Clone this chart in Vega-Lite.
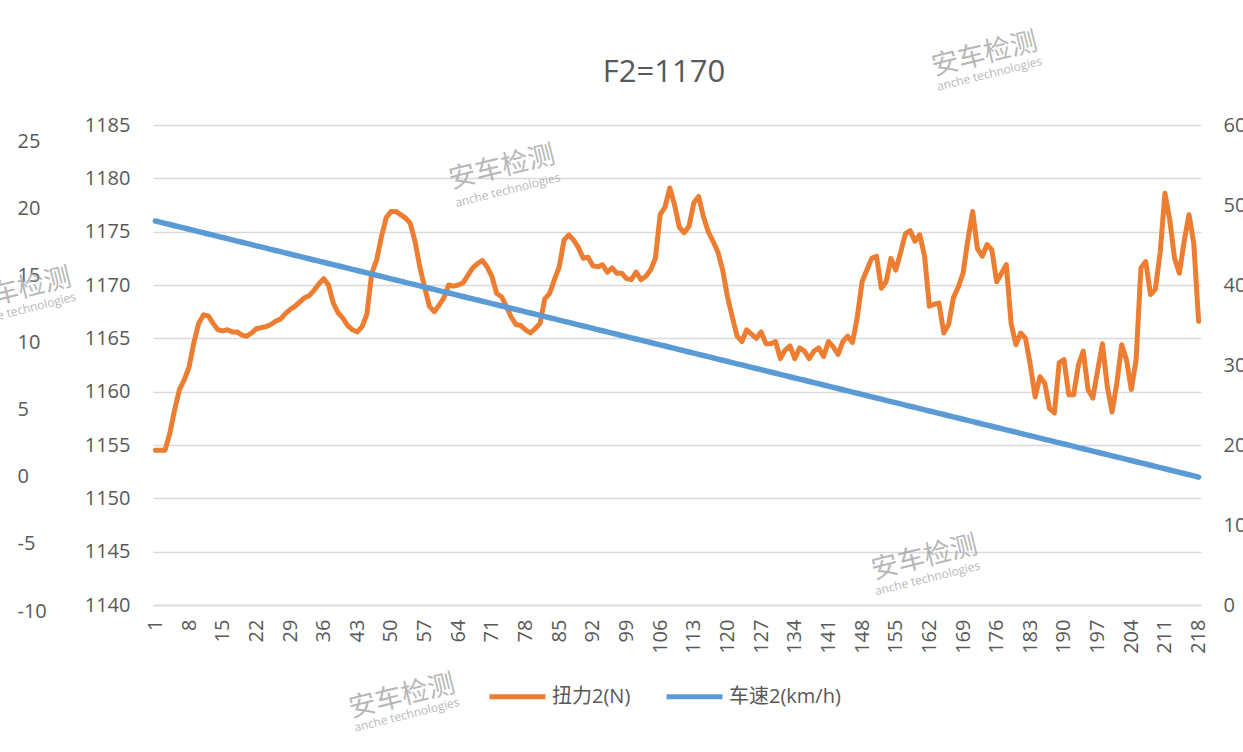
{
  "$schema": "https://vega.github.io/schema/vega-lite/v6.json",
  "width": 1048,
  "height": 480,
  "autosize": {"type": "none"},
  "padding": {"left": 153, "top": 125, "right": 42, "bottom": 147},
  "background": "white",
  "config": {
    "view": {"stroke": null},
    "font": "Open Sans, Noto Sans CJK SC",
    "axis": {"labelColor": "#595959", "labelFontSize": 20, "labelFont": "Open Sans", "titleColor": "#595959"},
    "axisX": {"labelOverlap": false, "labelFlush": false, "labelBound": false}
  },
  "title": {"text": "F2=1170", "fontSize": 31, "font": "Open Sans", "fontWeight": "normal", "color": "#595959", "baseline": "alphabetic", "offset": -85, "dx": -13},
  "datasets": {
    "d": [
      {"i":1,"t":1154.5,"s":48.00},{"i":2,"t":1154.5,"s":47.85},{"i":3,"t":1154.5,"s":47.71},{"i":4,"t":1156.1,"s":47.56},{"i":5,"t":1158.3,"s":47.41},
      {"i":6,"t":1160.2,"s":47.26},{"i":7,"t":1161.1,"s":47.12},{"i":8,"t":1162.3,"s":46.97},{"i":9,"t":1164.6,"s":46.82},{"i":10,"t":1166.4,"s":46.67},
      {"i":11,"t":1167.2,"s":46.53},{"i":12,"t":1167.1,"s":46.38},{"i":13,"t":1166.4,"s":46.23},{"i":14,"t":1165.8,"s":46.08},{"i":15,"t":1165.7,"s":45.94},
      {"i":16,"t":1165.8,"s":45.79},{"i":17,"t":1165.6,"s":45.64},{"i":18,"t":1165.6,"s":45.49},{"i":19,"t":1165.3,"s":45.35},{"i":20,"t":1165.2,"s":45.20},
      {"i":21,"t":1165.5,"s":45.05},{"i":22,"t":1165.9,"s":44.90},{"i":23,"t":1166.0,"s":44.76},{"i":24,"t":1166.1,"s":44.61},{"i":25,"t":1166.3,"s":44.46},
      {"i":26,"t":1166.6,"s":44.31},{"i":27,"t":1166.8,"s":44.17},{"i":28,"t":1167.3,"s":44.02},{"i":29,"t":1167.7,"s":43.87},{"i":30,"t":1168.0,"s":43.72},
      {"i":31,"t":1168.4,"s":43.58},{"i":32,"t":1168.8,"s":43.43},{"i":33,"t":1169.0,"s":43.28},{"i":34,"t":1169.5,"s":43.13},{"i":35,"t":1170.1,"s":42.99},
      {"i":36,"t":1170.6,"s":42.84},{"i":37,"t":1170.0,"s":42.69},{"i":38,"t":1168.3,"s":42.54},{"i":39,"t":1167.4,"s":42.40},{"i":40,"t":1166.9,"s":42.25},
      {"i":41,"t":1166.2,"s":42.10},{"i":42,"t":1165.8,"s":41.95},{"i":43,"t":1165.6,"s":41.81},{"i":44,"t":1166.1,"s":41.66},{"i":45,"t":1167.3,"s":41.51},
      {"i":46,"t":1171.1,"s":41.36},{"i":47,"t":1172.3,"s":41.22},{"i":48,"t":1174.5,"s":41.07},{"i":49,"t":1176.3,"s":40.92},{"i":50,"t":1176.9,"s":40.77},
      {"i":51,"t":1176.9,"s":40.63},{"i":52,"t":1176.6,"s":40.48},{"i":53,"t":1176.3,"s":40.33},{"i":54,"t":1175.8,"s":40.18},{"i":55,"t":1174.1,"s":40.04},
      {"i":56,"t":1171.7,"s":39.89},{"i":57,"t":1169.8,"s":39.74},{"i":58,"t":1168.0,"s":39.59},{"i":59,"t":1167.5,"s":39.45},{"i":60,"t":1168.1,"s":39.30},
      {"i":61,"t":1168.8,"s":39.15},{"i":62,"t":1170.0,"s":39.00},{"i":63,"t":1169.9,"s":38.86},{"i":64,"t":1170.0,"s":38.71},{"i":65,"t":1170.2,"s":38.56},
      {"i":66,"t":1170.9,"s":38.41},{"i":67,"t":1171.6,"s":38.27},{"i":68,"t":1172.0,"s":38.12},{"i":69,"t":1172.3,"s":37.97},{"i":70,"t":1171.7,"s":37.82},
      {"i":71,"t":1170.8,"s":37.68},{"i":72,"t":1169.2,"s":37.53},{"i":73,"t":1168.9,"s":37.38},{"i":74,"t":1168.0,"s":37.23},{"i":75,"t":1167.0,"s":37.09},
      {"i":76,"t":1166.3,"s":36.94},{"i":77,"t":1166.2,"s":36.79},{"i":78,"t":1165.8,"s":36.64},{"i":79,"t":1165.5,"s":36.50},{"i":80,"t":1165.9,"s":36.35},
      {"i":81,"t":1166.4,"s":36.20},{"i":82,"t":1168.7,"s":36.05},{"i":83,"t":1169.2,"s":35.91},{"i":84,"t":1170.5,"s":35.76},{"i":85,"t":1171.7,"s":35.61},
      {"i":86,"t":1174.2,"s":35.46},{"i":87,"t":1174.7,"s":35.32},{"i":88,"t":1174.2,"s":35.17},{"i":89,"t":1173.5,"s":35.02},{"i":90,"t":1172.5,"s":34.87},
      {"i":91,"t":1172.6,"s":34.73},{"i":92,"t":1171.8,"s":34.58},{"i":93,"t":1171.7,"s":34.43},{"i":94,"t":1171.9,"s":34.28},{"i":95,"t":1171.2,"s":34.14},
      {"i":96,"t":1171.6,"s":33.99},{"i":97,"t":1171.1,"s":33.84},{"i":98,"t":1171.1,"s":33.69},{"i":99,"t":1170.6,"s":33.55},{"i":100,"t":1170.5,"s":33.40},
      {"i":101,"t":1171.2,"s":33.25},{"i":102,"t":1170.5,"s":33.10},{"i":103,"t":1170.8,"s":32.96},{"i":104,"t":1171.4,"s":32.81},{"i":105,"t":1172.5,"s":32.66},
      {"i":106,"t":1176.6,"s":32.51},{"i":107,"t":1177.3,"s":32.37},{"i":108,"t":1179.1,"s":32.22},{"i":109,"t":1177.5,"s":32.07},{"i":110,"t":1175.4,"s":31.92},
      {"i":111,"t":1174.9,"s":31.78},{"i":112,"t":1175.5,"s":31.63},{"i":113,"t":1177.7,"s":31.48},{"i":114,"t":1178.3,"s":31.33},{"i":115,"t":1176.4,"s":31.19},
      {"i":116,"t":1175.0,"s":31.04},{"i":117,"t":1174.1,"s":30.89},{"i":118,"t":1173.1,"s":30.74},{"i":119,"t":1171.4,"s":30.60},{"i":120,"t":1168.9,"s":30.45},
      {"i":121,"t":1167.0,"s":30.30},{"i":122,"t":1165.2,"s":30.15},{"i":123,"t":1164.7,"s":30.01},{"i":124,"t":1165.8,"s":29.86},{"i":125,"t":1165.4,"s":29.71},
      {"i":126,"t":1165.0,"s":29.56},{"i":127,"t":1165.6,"s":29.42},{"i":128,"t":1164.5,"s":29.27},{"i":129,"t":1164.5,"s":29.12},{"i":130,"t":1164.7,"s":28.97},
      {"i":131,"t":1163.1,"s":28.83},{"i":132,"t":1163.9,"s":28.68},{"i":133,"t":1164.3,"s":28.53},{"i":134,"t":1163.1,"s":28.38},{"i":135,"t":1164.1,"s":28.24},
      {"i":136,"t":1163.8,"s":28.09},{"i":137,"t":1163.1,"s":27.94},{"i":138,"t":1163.8,"s":27.79},{"i":139,"t":1164.1,"s":27.65},{"i":140,"t":1163.3,"s":27.50},
      {"i":141,"t":1164.7,"s":27.35},{"i":142,"t":1164.2,"s":27.20},{"i":143,"t":1163.5,"s":27.06},{"i":144,"t":1164.7,"s":26.91},{"i":145,"t":1165.2,"s":26.76},
      {"i":146,"t":1164.6,"s":26.61},{"i":147,"t":1167.0,"s":26.47},{"i":148,"t":1170.3,"s":26.32},{"i":149,"t":1171.4,"s":26.17},{"i":150,"t":1172.5,"s":26.02},
      {"i":151,"t":1172.7,"s":25.88},{"i":152,"t":1169.7,"s":25.73},{"i":153,"t":1170.3,"s":25.58},{"i":154,"t":1172.5,"s":25.43},{"i":155,"t":1171.4,"s":25.29},
      {"i":156,"t":1173.0,"s":25.14},{"i":157,"t":1174.8,"s":24.99},{"i":158,"t":1175.1,"s":24.84},{"i":159,"t":1174.1,"s":24.70},{"i":160,"t":1174.7,"s":24.55},
      {"i":161,"t":1172.7,"s":24.40},{"i":162,"t":1168.0,"s":24.25},{"i":163,"t":1168.2,"s":24.11},{"i":164,"t":1168.3,"s":23.96},{"i":165,"t":1165.5,"s":23.81},
      {"i":166,"t":1166.3,"s":23.66},{"i":167,"t":1168.8,"s":23.52},{"i":168,"t":1169.8,"s":23.37},{"i":169,"t":1171.1,"s":23.22},{"i":170,"t":1174.2,"s":23.07},
      {"i":171,"t":1176.9,"s":22.93},{"i":172,"t":1173.4,"s":22.78},{"i":173,"t":1172.7,"s":22.63},{"i":174,"t":1173.8,"s":22.48},{"i":175,"t":1173.3,"s":22.34},
      {"i":176,"t":1170.3,"s":22.19},{"i":177,"t":1171.1,"s":22.04},{"i":178,"t":1171.9,"s":21.89},{"i":179,"t":1166.4,"s":21.75},{"i":180,"t":1164.4,"s":21.60},
      {"i":181,"t":1165.5,"s":21.45},{"i":182,"t":1165.0,"s":21.30},{"i":183,"t":1162.5,"s":21.16},{"i":184,"t":1159.5,"s":21.01},{"i":185,"t":1161.4,"s":20.86},
      {"i":186,"t":1160.8,"s":20.71},{"i":187,"t":1158.4,"s":20.57},{"i":188,"t":1158.0,"s":20.42},{"i":189,"t":1162.7,"s":20.27},{"i":190,"t":1163.0,"s":20.12},
      {"i":191,"t":1159.7,"s":19.98},{"i":192,"t":1159.7,"s":19.83},{"i":193,"t":1162.5,"s":19.68},{"i":194,"t":1163.8,"s":19.53},{"i":195,"t":1160.2,"s":19.39},
      {"i":196,"t":1159.4,"s":19.24},{"i":197,"t":1162.0,"s":19.09},{"i":198,"t":1164.5,"s":18.94},{"i":199,"t":1160.5,"s":18.80},{"i":200,"t":1158.1,"s":18.65},
      {"i":201,"t":1160.8,"s":18.50},{"i":202,"t":1164.4,"s":18.35},{"i":203,"t":1163.0,"s":18.21},{"i":204,"t":1160.2,"s":18.06},{"i":205,"t":1163.0,"s":17.91},
      {"i":206,"t":1171.6,"s":17.76},{"i":207,"t":1172.2,"s":17.62},{"i":208,"t":1169.1,"s":17.47},{"i":209,"t":1169.6,"s":17.32},{"i":210,"t":1173.0,"s":17.17},
      {"i":211,"t":1178.6,"s":17.03},{"i":212,"t":1176.1,"s":16.88},{"i":213,"t":1172.5,"s":16.73},{"i":214,"t":1171.1,"s":16.58},{"i":215,"t":1174.1,"s":16.44},
      {"i":216,"t":1176.6,"s":16.29},{"i":217,"t":1173.9,"s":16.14},{"i":218,"t":1166.6,"s":15.99}
    ],
    "wm": [
      {"wx":73.1,"wy":1181.0,"kind":"cn","txt":"安车检测"},
      {"wx":74.3,"wy":1178.9,"kind":"en","txt":"anche technologies"},
      {"wx":173.5,"wy":1191.6,"kind":"cn","txt":"安车检测"},
      {"wx":174.5,"wy":1189.8,"kind":"en","txt":"anche technologies"},
      {"wx":161.0,"wy":1144.4,"kind":"cn","txt":"安车检测"},
      {"wx":161.6,"wy":1142.5,"kind":"en","txt":"anche technologies"},
      {"wx":52.3,"wy":1131.4,"kind":"cn","txt":"安车检测"},
      {"wx":53.3,"wy":1129.7,"kind":"en","txt":"anche technologies"},
      {"wx":-27.5,"wy":1169.5,"kind":"cn","txt":"安车检测"},
      {"wx":-26.5,"wy":1167.7,"kind":"en","txt":"anche technologies"}
    ]
  },
  "layer": [
    {
      "layer": [
        {
          "data": {"name": "d"},
          "mark": {"type": "line", "strokeWidth": 5, "strokeJoin": "round", "strokeCap": "round"},
          "encoding": {
            "x": {"field": "i", "type": "quantitative", "scale": {"domain": [0.5, 218.5], "nice": false, "zero": false},
                  "axis": {"values": [1,8,15,22,29,36,43,50,57,64,71,78,85,92,99,106,113,120,127,134,141,148,155,162,169,176,183,190,197,204,211,218],
                           "tickCount": 100,
                           "labelAngle": -90, "ticks": false, "grid": false, "domainColor": "#D9D9D9", "domainWidth": 1.5,
                           "labelPadding": 14, "title": null, "labelOverlap": false, "labelFlush": false, "labelBound": false, "format": "d"}},
            "y": {"field": "t", "type": "quantitative", "scale": {"domain": [1140, 1185], "nice": false, "zero": false},
                  "axis": {"orient": "left", "values": [1140,1145,1150,1155,1160,1165,1170,1175,1180,1185], "grid": true, "format": "d",
                           "gridColor": "#D9D9D9", "gridWidth": 1.3, "ticks": false, "domain": false, "labelPadding": 23, "title": null}},
            "color": {"datum": "扭力2(N)", "type": "nominal",
                      "scale": {"domain": ["扭力2(N)", "车速2(km/h)"], "range": ["#ED7D31", "#5B9BD5"]},
                      "legend": {"title": null, "orient": "none", "legendX": 334, "legendY": 541, "direction": "horizontal",
                                 "symbolType": "stroke", "symbolSize": 3136, "symbolStrokeWidth": 5,
                                 "labelFontSize": 20, "labelColor": "#595959", "labelFont": "Open Sans, Noto Sans CJK SC",
                                 "columnPadding": 25, "labelOffset": 4}}
          }
        },
        {
          "mark": {"type": "rule", "color": "#FF3030", "strokeWidth": 1.5},
          "encoding": {"y": {"datum": 1178.2, "type": "quantitative"}}
        },
        {
          "data": {"name": "wm"},
          "transform": [{"filter": "datum.kind === 'cn'"}],
          "mark": {"type": "text", "angle": 346, "fontSize": 27, "color": "#9A9A9A", "opacity": 0.7, "font": "Noto Sans CJK SC"},
          "encoding": {
            "x": {"field": "wx", "type": "quantitative", "scale": {"domain": [0.5, 218.5], "nice": false, "zero": false}, "title": null},
            "y": {"field": "wy", "type": "quantitative", "scale": {"domain": [1140, 1185], "nice": false, "zero": false}, "title": null},
            "text": {"field": "txt"}
          }
        },
        {
          "data": {"name": "wm"},
          "transform": [{"filter": "datum.kind === 'en'"}],
          "mark": {"type": "text", "angle": 346, "fontSize": 12, "color": "#9A9A9A", "opacity": 0.7, "font": "Open Sans"},
          "encoding": {
            "x": {"field": "wx", "type": "quantitative", "scale": {"domain": [0.5, 218.5], "nice": false, "zero": false}, "title": null},
            "y": {"field": "wy", "type": "quantitative", "scale": {"domain": [1140, 1185], "nice": false, "zero": false}, "title": null},
            "text": {"field": "txt"}
          }
        }
      ]
    },
    {
      "data": {"name": "d"},
      "mark": {"type": "line", "strokeWidth": 5.5, "strokeJoin": "round", "strokeCap": "round"},
      "encoding": {
        "x": {"field": "i", "type": "quantitative", "scale": {"domain": [0.5, 218.5], "nice": false, "zero": false}},
        "y": {"field": "s", "type": "quantitative", "scale": {"domain": [0, 60], "nice": false, "zero": false},
              "axis": {"orient": "right", "values": [0,10,20,30,40,50,60], "grid": false, "ticks": false, "domain": false, "labelPadding": 22, "title": null}},
        "color": {"datum": "车速2(km/h)", "type": "nominal"}
      }
    },
    {
      "mark": {"type": "rule", "strokeOpacity": 0},
      "encoding": {
        "y": {"datum": 0, "type": "quantitative", "scale": {"domain": [-10, 25], "range": [486, 16], "nice": false, "zero": false},
              "axis": {"orient": "left", "offset": 136, "values": [-10,-5,0,5,10,15,20,25], "grid": false, "ticks": false, "tickSize": 0,
                       "domain": false, "labelPadding": 0, "labelAlign": "left", "title": null, "labelExpr": "toString(datum.value)"}}
      }
    }
  ],
  "resolve": {"scale": {"y": "independent"}}
}
